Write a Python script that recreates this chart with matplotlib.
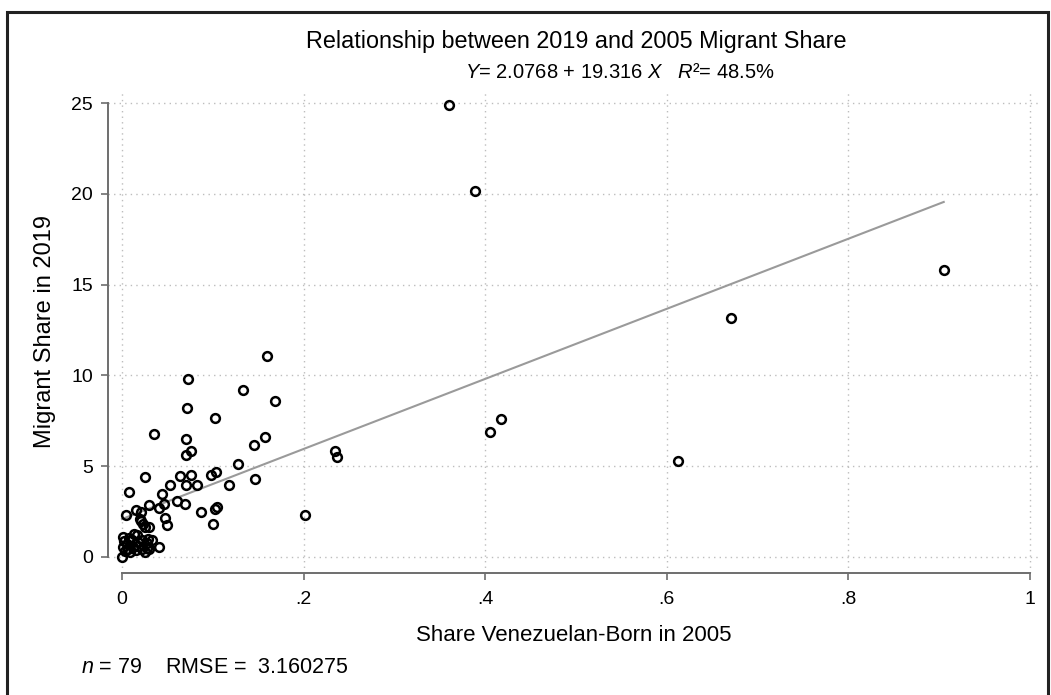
import numpy as np
import matplotlib
matplotlib.use("Agg")
import matplotlib.pyplot as plt
from matplotlib.patches import Rectangle

plt.rcParams['font.family'] = ['Liberation Sans', 'DejaVu Sans']
plt.rcParams['mathtext.fontset'] = 'custom'
plt.rcParams['mathtext.rm'] = 'Liberation Sans'
plt.rcParams['mathtext.it'] = 'Liberation Sans:italic'
plt.rcParams['mathtext.bf'] = 'Liberation Sans:bold'

# share Venezuelan-born in 2005 (x) and migrant share in 2019 (y)
share_2005 = [
    0.360, 0.389, 0.905, 0.671, 0.612, 0.405, 0.417,
    0.160, 0.073, 0.133, 0.169, 0.072, 0.102, 0.035, 0.070, 0.076, 0.070,
    0.157, 0.145, 0.235, 0.237, 0.128, 0.025, 0.064, 0.076, 0.098, 0.103,
    0.053, 0.070, 0.083, 0.118, 0.147, 0.008, 0.044, 0.061, 0.069, 0.046,
    0.030, 0.041, 0.004, 0.015, 0.021, 0.087, 0.102, 0.105, 0.201, 0.020,
    0.021, 0.023, 0.047, 0.050, 0.030, 0.025, 0.100, 0.041, 0.001, 0.013,
    0.001, 0.000, 0.029, 0.030, 0.025,
    0.002, 0.008, 0.016, 0.005, 0.011, 0.018, 0.022, 0.027, 0.033, 0.007,
    0.012, 0.018, 0.022, 0.028, 0.003, 0.009, 0.015,
]
share_2019 = [
    24.9, 20.16, 15.8, 13.16, 5.26, 6.88, 7.59,
    11.04, 9.8, 9.18, 8.57, 8.22, 7.65, 6.79, 6.48, 5.82, 5.61,
    6.62, 6.16, 5.85, 5.48, 5.09, 4.41, 4.45, 4.51, 4.51, 4.67,
    3.97, 3.96, 3.97, 3.97, 4.30, 3.57, 3.44, 3.09, 2.92, 2.92,
    2.85, 2.70, 2.32, 2.56, 2.46, 2.46, 2.63, 2.74, 2.30, 2.10,
    1.95, 1.80, 2.11, 1.77, 1.62, 1.62, 1.82, 0.55, 1.10, 1.27,
    0.55, 0.00, 0.98, 0.42, 0.26,
    0.85, 1.05, 1.20, 0.70, 0.90, 0.80, 0.90, 0.75, 0.90, 0.45,
    0.55, 0.60, 0.45, 0.50, 0.30, 0.25, 0.35,
]
intercept = 2.0768
slope = 19.316
r2_pct = 48.5
rmse = 3.160275

x_ticks = [0, 0.2, 0.4, 0.6, 0.8, 1.0]
x_tick_labels = ['0', '.2', '.4', '.6', '.8', '1']
y_ticks = [0, 5, 10, 15, 20, 25]

x = np.array(share_2005)
y = np.array(share_2019)

fig = plt.figure(figsize=(10.51, 6.95), dpi=100)
ax = fig.add_axes([0.1028, 0.1755, 0.8867, 0.695])

# outer frame of the graph
fig.patches.append(Rectangle((0.0067, -0.05), 0.99, 1.033, transform=fig.transFigure,
                             fill=False, edgecolor='#222222', linewidth=2.2))

# fitted line
xs = np.array([x.min(), x.max()])
ax.plot(xs, intercept + slope * xs, color='#9a9a9a', linewidth=1.5, zorder=2)

ax.plot(x, y, 'o', markerfacecolor='none', markeredgecolor='black',
        markersize=6.3, markeredgewidth=1.8, zorder=3, clip_on=False)

ax.set_xlim(-0.0154, 1.011)
ax.set_ylim(-0.90, 25.73)
ax.set_xticks(x_ticks)
ax.set_xticklabels(x_tick_labels)
ax.set_yticks(y_ticks)
ax.grid(True, linestyle=(0, (1, 3)), color='#bdbdbd', linewidth=1.0)
ax.set_axisbelow(True)

for side in ['top', 'right']:
    ax.spines[side].set_visible(False)
ax.spines['left'].set_bounds(0, 25)
ax.spines['bottom'].set_bounds(0, 1)
for side in ['left', 'bottom']:
    ax.spines[side].set_color('#6e6e6e')
    ax.spines[side].set_linewidth(1.4)
ax.tick_params(axis='both', colors='#6e6e6e', length=5, width=1.2, labelcolor='black',
               labelsize=14)
ax.tick_params(axis='x', pad=8)
ax.tick_params(axis='y', pad=6)

ax.set_xlabel('Share Venezuelan-Born in 2005', fontsize=16, labelpad=12)
ax.set_ylabel('Migrant Share in 2019', fontsize=17, labelpad=11)

fig.text(0.548, 0.941, 'Relationship between 2019 and 2005 Migrant Share',
         ha='center', va='center', fontsize=16.8)
fig.text(0.59, 0.895, r'$Y$= %.4f + %.3f $X$   $R$²= %.1f%%' % (intercept, slope, r2_pct),
         ha='center', va='center', fontsize=14.5)
fig.text(0.077, 0.039, r'$n$ = %d    RMSE =  %.6f' % (len(x), rmse),
         ha='left', va='center', fontsize=15.5)

fig.savefig('out.png', dpi=100)
